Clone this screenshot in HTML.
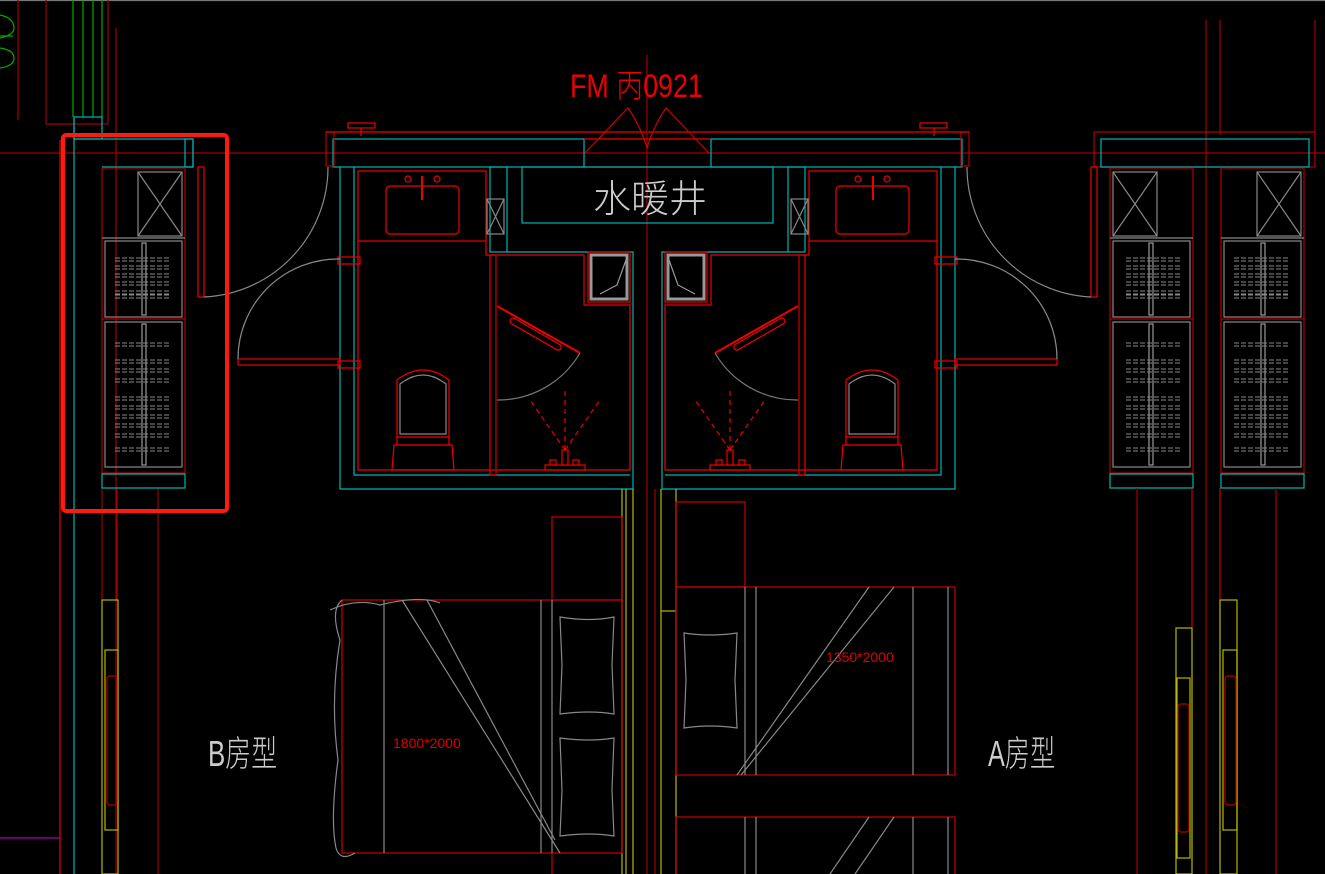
<!DOCTYPE html>
<html><head><meta charset="utf-8"><style>
html,body{margin:0;padding:0;background:#000;width:1325px;height:874px;overflow:hidden}
svg{display:block}
text{font-family:"Liberation Sans","Noto Sans CJK SC",sans-serif}
</style></head><body>
<svg width="1325" height="874" viewBox="0 0 1325 874" xmlns="http://www.w3.org/2000/svg" fill="none" stroke-width="1.2">
<defs>
<g id="hang" stroke="#888" stroke-width="1" stroke-dasharray="5,2">
<line x1="13" y1="0" x2="69" y2="0"/><line x1="13" y1="3" x2="69" y2="3"/>
</g>
<g id="cab">
<rect x="0" y="0" width="83" height="305" stroke="#b00000"/>
<rect x="36" y="4" width="44" height="64" stroke="#888"/>
<line x1="36" y1="4" x2="80" y2="68" stroke="#888"/><line x1="80" y1="4" x2="36" y2="68" stroke="#888"/>
<line x1="0" y1="70" x2="83" y2="70" stroke="#888"/>
<rect x="3" y="73" width="77" height="76" stroke="#888"/>
<rect x="3" y="154" width="77" height="145" stroke="#888"/>
<line x1="0" y1="151" x2="83" y2="151" stroke="#b00000"/>
<rect x="40" y="75" width="4" height="72" stroke="#999"/>
<rect x="40" y="156" width="4" height="141" stroke="#999"/>
<use href="#hang" y="90"/><use href="#hang" y="98"/><use href="#hang" y="106"/><use href="#hang" y="114"/><use href="#hang" y="123"/><use href="#hang" y="127"/>
<use href="#hang" y="175"/><use href="#hang" y="192"/><use href="#hang" y="201"/><use href="#hang" y="211"/><use href="#hang" y="229"/><use href="#hang" y="238"/><use href="#hang" y="247"/><use href="#hang" y="256"/><use href="#hang" y="266"/><use href="#hang" y="280"/>
<rect x="0" y="306" width="83" height="14" stroke="#00b4b4"/>
</g>
<g id="bath">
<rect x="333" y="139" width="251" height="28" stroke="#00b4b4"/>
<rect x="348" y="123" width="27" height="5" stroke="#e00"/>
<line x1="361" y1="128" x2="361" y2="136" stroke="#e00"/>
<rect x="326" y="132" width="8" height="34" stroke="#b00000"/>
<line x1="326" y1="132" x2="647" y2="132" stroke="#e00"/>
<polyline points="340,167 340,489 633,489 633,252 507,252" stroke="#00b4b4"/>
<polyline points="354,167 354,475 630,475" stroke="#00b4b4"/>
<rect x="358" y="171" width="128" height="70" stroke="#e00"/>
<rect x="386" y="186" width="73" height="48" rx="4" stroke="#e00"/>
<line x1="422" y1="176" x2="422" y2="200" stroke="#e00" stroke-width="2"/>
<circle cx="408" cy="179" r="3" stroke="#e00"/><circle cx="437" cy="179" r="3" stroke="#e00"/>
<polyline points="358,241 358,470 630,470 630,305 584,305 584,255 486,255 486,241" stroke="#e00"/>
<rect x="490" y="167" width="17" height="85" stroke="#00b4b4"/>
<rect x="487" y="199" width="17" height="35" stroke="#888"/>
<line x1="487" y1="199" x2="504" y2="234" stroke="#888"/><line x1="504" y1="199" x2="487" y2="234" stroke="#888"/>
<rect x="490" y="255" width="6" height="220" stroke="#e00"/>
<line x1="496" y1="255" x2="496" y2="475" stroke="#b00000"/>
<rect x="588" y="252" width="42" height="50" stroke="#e00"/>
<rect x="591" y="255" width="36" height="44" stroke="#999" stroke-width="3"/>
<polyline points="600,294 617,285 626,260" stroke="#999"/>
<line x1="497" y1="306" x2="580" y2="353" stroke="#e00" stroke-width="2"/>
<rect x="512" y="317" width="58" height="6" rx="3" transform="rotate(30 512 317)" stroke="#e00"/>
<path d="M497,400 A95,95 0 0 0 580,353" stroke="#777"/>
<g stroke="#e00" stroke-dasharray="5,4">
<line x1="565" y1="450" x2="565" y2="390"/><line x1="565" y1="450" x2="530" y2="400"/><line x1="565" y1="450" x2="600" y2="400"/>
</g>
<rect x="562" y="450" width="6" height="15" stroke="#e00"/>
<rect x="545" y="465" width="40" height="5" stroke="#e00"/>
<rect x="550" y="460" width="6" height="5" stroke="#e00"/><rect x="573" y="460" width="6" height="5" stroke="#e00"/>
<path d="M397,437 L397,380 Q423,360 449,380 L449,437 Z" stroke="#e00"/>
<path d="M400,434 L400,384 Q423,366 446,384 L446,434 Z" stroke="#888"/>
<path d="M394,445 L452,445 L454,470 L392,470 Z" stroke="#e00"/>
<line x1="397" y1="437" x2="397" y2="445" stroke="#e00"/><line x1="449" y1="437" x2="449" y2="445" stroke="#e00"/>
<rect x="338" y="257" width="22" height="7" stroke="#e00"/>
<rect x="338" y="361" width="22" height="7" stroke="#e00"/>
<rect x="238" y="359" width="102" height="6" stroke="#e00"/>
<path d="M238,359 A100,100 0 0 1 340,259" stroke="#888"/>
</g>
</defs>

<rect width="1325" height="874" fill="#000"/>
<line x1="0" y1="0.5" x2="1325" y2="0.5" stroke="#777"/>

<g stroke="#0a0"><line x1="73" y1="0" x2="73" y2="117"/><line x1="83" y1="0" x2="83" y2="117"/><line x1="93" y1="0" x2="93" y2="117"/><line x1="102" y1="0" x2="102" y2="117"/>
<path d="M0,15 Q14,18 14,28 Q14,35 0,38"/><line x1="0" y1="36" x2="13" y2="36"/><path d="M0,48 Q14,50 14,58 Q14,66 0,68"/></g>
<g stroke="#a00000">
<line x1="18" y1="0" x2="18" y2="120"/><line x1="46" y1="0" x2="46" y2="124"/><line x1="46" y1="124" x2="108" y2="124"/>
<line x1="108" y1="0" x2="108" y2="124"/><line x1="116" y1="28" x2="116" y2="874"/>
<line x1="0" y1="153" x2="1325" y2="153"/>
<line x1="647" y1="55" x2="647" y2="874"/>
<line x1="1206" y1="20" x2="1206" y2="874"/>
<line x1="1220" y1="20" x2="1220" y2="135"/><line x1="1315" y1="20" x2="1315" y2="135"/>
</g>

<g>
<line x1="60" y1="140" x2="60" y2="874" stroke="#e00"/>
<line x1="74" y1="117" x2="74" y2="874" stroke="#00b4b4"/>
<rect x="74" y="117" width="28" height="22" stroke="#00b4b4"/>
<polyline points="74,139 193,139 193,167 102,167" stroke="#00b4b4"/>
<rect x="185" y="139" width="8" height="28" stroke="#00b4b4"/>
<line x1="102" y1="488" x2="102" y2="600" stroke="#a00000"/>
<line x1="117" y1="488" x2="117" y2="600" stroke="#a00000"/>
<line x1="158" y1="488" x2="158" y2="874" stroke="#a00000"/>
<rect x="102" y="600" width="16" height="274" stroke="#b8b800"/>
<rect x="105" y="650" width="13" height="180" stroke="#b8b800"/>
<rect x="107" y="676" width="10" height="129" rx="3" stroke="#b00000"/>
<line x1="0" y1="838" x2="60" y2="838" stroke="#a0a"/>
</g>
<use href="#cab" x="102" y="168"/>
<rect x="198" y="167" width="6" height="130" stroke="#e00"/>
<path d="M204,297 A130,130 0 0 0 328,167" stroke="#888"/>
<rect x="63" y="135" width="164" height="376" rx="3" stroke="#ff1a10" stroke-width="4"/>

<use href="#bath"/>
<use href="#bath" transform="translate(1295,0) scale(-1,1)"/>
<line x1="584" y1="139" x2="710" y2="139" stroke="#e00"/>
<line x1="584" y1="167" x2="710" y2="167" stroke="#e00"/>
<rect x="522" y="167" width="251" height="56" stroke="#00b4b4"/>
<text x="650" y="212" fill="#ccc" font-size="38" text-anchor="middle" font-family="'Noto Sans CJK SC',sans-serif" font-weight="300">水暖井</text>
<path d="M585,153 L628,108 Q640,125 647,148 Q654,125 666,108 L709,153" stroke="#c00"/>
<text transform="translate(570,97) scale(0.96,1.15)" fill="#e00" font-size="28" font-family="'Liberation Sans','Noto Sans CJK SC',sans-serif" font-weight="300">FM 丙0921</text>

<rect x="1094" y="132" width="221" height="35" stroke="#b00000"/>
<rect x="1101" y="139" width="208" height="28" stroke="#00b4b4"/>
<rect x="1091" y="167" width="6" height="130" stroke="#e00"/>
<path d="M1091,297 A130,130 0 0 1 967,167" stroke="#888"/>
<use href="#cab" x="1109" y="168" transform="translate(2302,0) scale(-1,1)"/>
<use href="#cab" x="1221" y="168"/>
<g stroke="#a00000"><line x1="1137" y1="488" x2="1137" y2="874"/><line x1="1276" y1="488" x2="1276" y2="874"/></g>
<g stroke="#c00"><line x1="1192" y1="488" x2="1192" y2="628"/><line x1="1220" y1="488" x2="1220" y2="600"/></g>
<rect x="1176" y="628" width="16" height="246" stroke="#b8b800"/>
<rect x="1177" y="678" width="13" height="180" stroke="#b8b800"/>
<rect x="1178" y="704" width="11" height="128" rx="3" stroke="#b00000"/>
<rect x="1220" y="600" width="17" height="274" stroke="#b8b800"/>
<rect x="1223" y="650" width="14" height="180" stroke="#b8b800"/>
<rect x="1225" y="676" width="11" height="129" rx="3" stroke="#b00000"/>

<g stroke="#b8b800"><line x1="622" y1="489" x2="622" y2="874"/><line x1="626" y1="489" x2="626" y2="874"/><line x1="633" y1="489" x2="633" y2="874"/>
<line x1="661" y1="489" x2="661" y2="874"/><line x1="676" y1="489" x2="676" y2="874"/><line x1="661" y1="611" x2="676" y2="611"/></g>
<line x1="655" y1="489" x2="655" y2="874" stroke="#a00000"/>

<rect x="552" y="517" width="70" height="83" stroke="#c00"/>
<rect x="342" y="600" width="280" height="253" stroke="#c00"/>
<line x1="552" y1="853" x2="552" y2="874" stroke="#c00"/>
<g stroke="#888">
<line x1="384" y1="600" x2="384" y2="853"/><line x1="541" y1="600" x2="541" y2="853"/><line x1="552" y1="600" x2="552" y2="853"/>
<line x1="402" y1="600" x2="560" y2="853"/><line x1="427" y1="600" x2="555" y2="840"/>
<path d="M342,600 Q330,610 340,640 Q330,700 338,760 Q330,820 336,848 Q340,862 355,853 M330,610 Q355,598 380,605 Q420,595 440,603"/>
<path d="M560,617 Q590,622 614,617 L612,665 L614,714 Q590,710 560,714 L562,665 Z"/>
<path d="M560,738 Q590,742 614,738 L612,790 L614,836 Q590,832 560,836 L562,790 Z"/>
</g>
<text x="393" y="748" fill="#d00" font-size="14" font-weight="300">1800*2000</text>

<rect x="676" y="502" width="69" height="85" stroke="#c00"/>
<rect x="676" y="587" width="279" height="188" stroke="#c00"/>
<rect x="676" y="817" width="279" height="60" stroke="#c00"/>
<g stroke="#888">
<line x1="745" y1="587" x2="745" y2="775"/><line x1="756" y1="587" x2="756" y2="775"/><line x1="913" y1="587" x2="913" y2="775"/><line x1="948" y1="587" x2="948" y2="775"/>
<line x1="869" y1="587" x2="737" y2="775"/><line x1="894" y1="587" x2="741" y2="775"/>
<line x1="745" y1="817" x2="745" y2="874"/><line x1="756" y1="817" x2="756" y2="874"/><line x1="913" y1="817" x2="913" y2="874"/><line x1="948" y1="817" x2="948" y2="874"/>
<line x1="869" y1="817" x2="830" y2="874"/><line x1="894" y1="817" x2="855" y2="874"/>
<path d="M684,633 Q710,637 737,633 L735,680 L737,728 Q710,724 684,728 L686,680 Z"/>
</g>
<text x="826" y="662" fill="#d00" font-size="14" font-weight="300">1350*2000</text>

<text transform="translate(208,766) scale(0.72,1)" fill="#ccc" font-size="36" font-family="'Liberation Sans','Noto Sans CJK SC',sans-serif" font-weight="300">B房型</text>
<text transform="translate(988,766) scale(0.7,1)" fill="#ccc" font-size="36" font-family="'Liberation Sans','Noto Sans CJK SC',sans-serif" font-weight="300">A房型</text>
</svg>
</body></html>
